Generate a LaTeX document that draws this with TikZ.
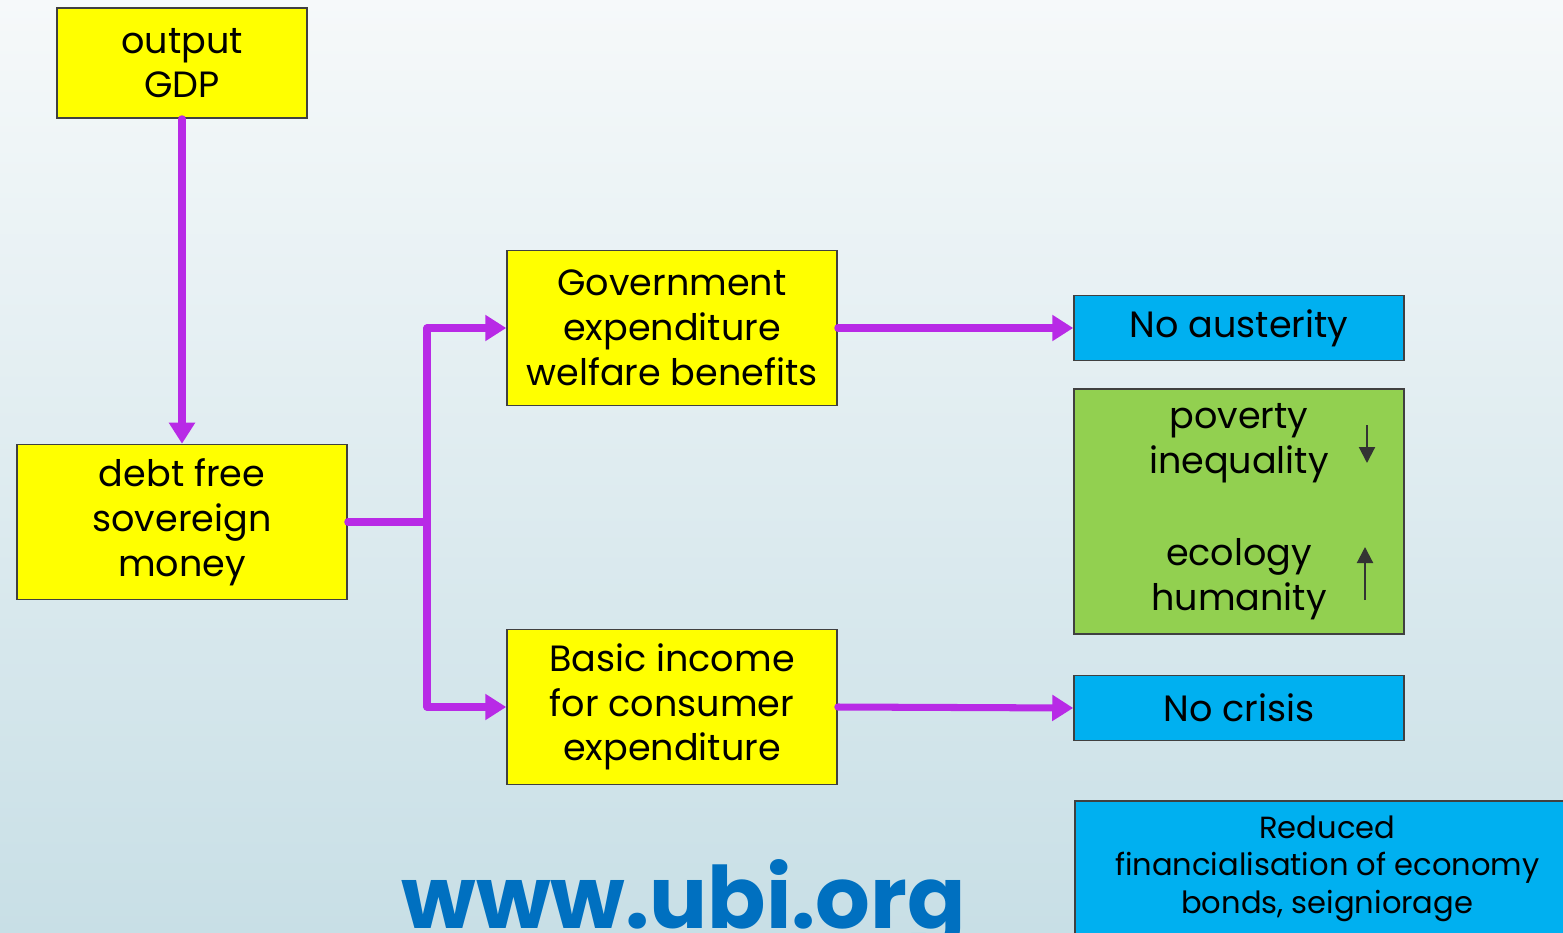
\documentclass[tikz,border=0pt]{standalone}
\usepackage{fontspec}
\setmainfont{Poppins}
\usetikzlibrary{arrows.meta,positioning}

\definecolor{boxyellow}{RGB}{255,255,0}
\definecolor{boxblue}{RGB}{0,176,240}
\definecolor{boxgreen}{RGB}{146,208,80}
\definecolor{flowpurple}{RGB}{184,42,230}
\definecolor{linkblue}{RGB}{0,112,192}
\definecolor{edgegray}{RGB}{64,64,64}
\definecolor{skytop}{RGB}{246,249,250}
\definecolor{skybottom}{RGB}{200,223,230}

\begin{document}
\begin{tikzpicture}[x=0.02cm,y=-0.02cm,
                    box/.style={rectangle,draw=edgegray,line width=0.9pt,align=center,
                      inner sep=0pt,font=\fontsize{20.8}{25.5}\selectfont},
                    yellow box/.style={box,fill=boxyellow,minimum width=6.6cm,minimum height=3.1cm},
                    blue box/.style={box,fill=boxblue,minimum width=6.6cm,minimum height=1.3cm},
                    flow/.style={draw=flowpurple,line width=4pt,line cap=round,line join=round},
                    go/.style={flow,-{Triangle[length=0.42cm,width=0.5cm]}},
                    trend/.style={draw=black!80,line width=1.2pt,-{Triangle[length=0.32cm,width=0.32cm]}}]

  % background
  \shade[top color=skytop,bottom color=skybottom] (0,0) rectangle (1563,933);
  \useasboundingbox (0,0) rectangle (1563,933);

  \node[yellow box,minimum width=5cm,minimum height=2.2cm] (gdp) at (182,63) {output\\GDP};
  \node[yellow box] (debt) at (182,522) {debt free\\sovereign\\money};
  \node[yellow box] (gov) at (672,328) {Government\\expenditure\\welfare benefits};
  \node[yellow box] (basic) at (672,707) {Basic income\\for consumer\\expenditure};

  \node[blue box] (austerity) at (1239,328) {No austerity};
  \node[box,fill=boxgreen,minimum width=6.6cm,minimum height=4.9cm] (social) at (1239,511.5)
    {poverty\\inequality\\[0.94cm]ecology\\humanity};
  \node[blue box] (crisis) at (1239,708) {No crisis};
  \node[box,fill=boxblue,anchor=north west,minimum width=10.1cm,minimum height=2.72cm,
        font=\fontsize{17.4}{21.5}\selectfont] (finance) at (1074,800)
    {Reduced\\financialisation of economy\\bonds, seigniorage};

  \node[anchor=base,text=linkblue,font=\fontsize{49}{49}\selectfont\bfseries] (site) at (684,928) {www.ubi.org};

  % flows
  \coordinate (split) at (427,522);
  \draw[go] (gdp.south) -- (debt.north);
  \draw[flow] (debt.east) -- (split);
  \draw[go] (split) |- (gov.west);
  \draw[go] (split) |- (basic.west);
  \draw[go] (gov.east) -- (austerity.west);
  \draw[go] (basic.east) -- (crisis.west);

  % up / down marks
  \coordinate (down1) at (1367,425);
  \coordinate (down2) at (1367,463);
  \coordinate (up1) at (1365,600);
  \coordinate (up2) at (1365,547);
  \draw[trend] (down1) -- (down2);
  \draw[trend] (up1) -- (up2);
\end{tikzpicture}
\end{document}
